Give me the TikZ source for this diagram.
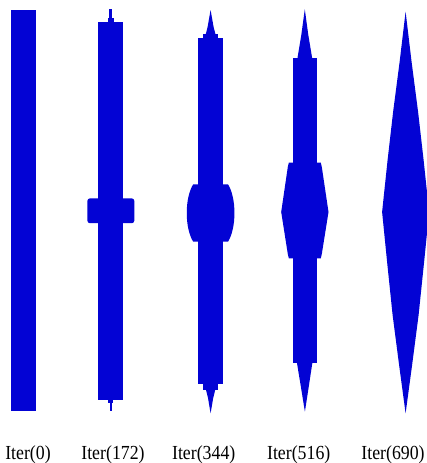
\documentclass[tikz,border=0pt]{standalone}
\usepackage{fontspec}
\setmainfont{Liberation Serif}
\definecolor{shapeblue}{RGB}{3,3,212}
\begin{document}
\begin{tikzpicture}[x=1pt,y=-1pt,
  shapefill/.style={fill=shapeblue,draw=none},
  iterlabel/.style={anchor=base,inner sep=0pt,font=\fontsize{17.8}{20}\selectfont}]
\useasboundingbox[fill=white] (0,0) rectangle (427,463);
% Iter(0)
\fill[shapefill] (11,9.5) rectangle (35.7,411);
% Iter(172)
\fill[shapefill] (98.3,21.7) rectangle (123,400);
\fill[shapefill] (107.6,18.3) rectangle (113.8,21.8);
\fill[shapefill] (109.4,9.3) rectangle (112.2,18.4);
\fill[shapefill] (108.2,399.9) rectangle (113.2,402.7);
\fill[shapefill] (109.6,402.6) rectangle (112.2,411);
\fill[shapefill,rounded corners=2.5pt] (87.4,198.4) rectangle (134.3,223.2);
% Iter(344)
\fill[shapefill] (198.3,38.3) rectangle (222.7,384.3);
\fill[shapefill] (203.3,34.3) rectangle (218.3,38.4);
\fill[shapefill] (205.7,34.4) -- (207.6,27) -- (210.6,10) -- (213.6,27) -- (215.5,34.4) -- cycle;
\fill[shapefill] (203.3,384.2) rectangle (218.3,390);
\fill[shapefill] (206,389.9) -- (208,398) -- (210.6,413.3) -- (213.2,398) -- (215.2,389.9) -- cycle;
\fill[shapefill] (193.2,184.3) .. controls (184.6,198) and (184.6,228) .. (193.2,241.7)
  -- (228,241.7) .. controls (236.6,228) and (236.6,198) .. (228,184.3) -- cycle;
% Iter(516)
\fill[shapefill] (292.5,57.7) rectangle (317,363.3);
\fill[shapefill] (297.5,57.8) -- (301.3,35) -- (304.8,9.3) -- (308.3,35) -- (312.1,57.8) -- cycle;
\fill[shapefill] (297,363.2) -- (300.6,385) -- (304.9,411.7) -- (309,385) -- (312.3,363.2) -- cycle;
\fill[shapefill] (288.8,162.7) -- (320.8,162.7) -- (321.8,167) -- (328.5,212)
  -- (321.8,254) -- (320.8,258.3) -- (288.8,258.3) -- (287.8,254) -- (281.2,212)
  -- (287.8,167) -- cycle;
% Iter(690)
\fill[shapefill] (405.6,11.7) -- (411.6,62) -- (418.1,112) -- (423.6,160) -- (429.1,212)
  -- (424.1,262) -- (418.6,315) -- (412.1,365) -- (405.6,413.3)
  -- (399.1,365) -- (392.6,315) -- (387.1,262) -- (382.1,212)
  -- (387.6,160) -- (393.1,112) -- (399.6,62) -- cycle;
% labels
\node[iterlabel] (l0) at (28,459) {\scalebox{1}[1.12]{Iter(0)}};
\node[iterlabel] (l1) at (113,459) {\scalebox{1}[1.12]{Iter(172)}};
\node[iterlabel] (l2) at (203.7,459) {\scalebox{1}[1.12]{Iter(344)}};
\node[iterlabel] (l3) at (298.7,459) {\scalebox{1}[1.12]{Iter(516)}};
\node[iterlabel] (l4) at (393,459) {\scalebox{1}[1.12]{Iter(690)}};
\end{tikzpicture}
\end{document}
